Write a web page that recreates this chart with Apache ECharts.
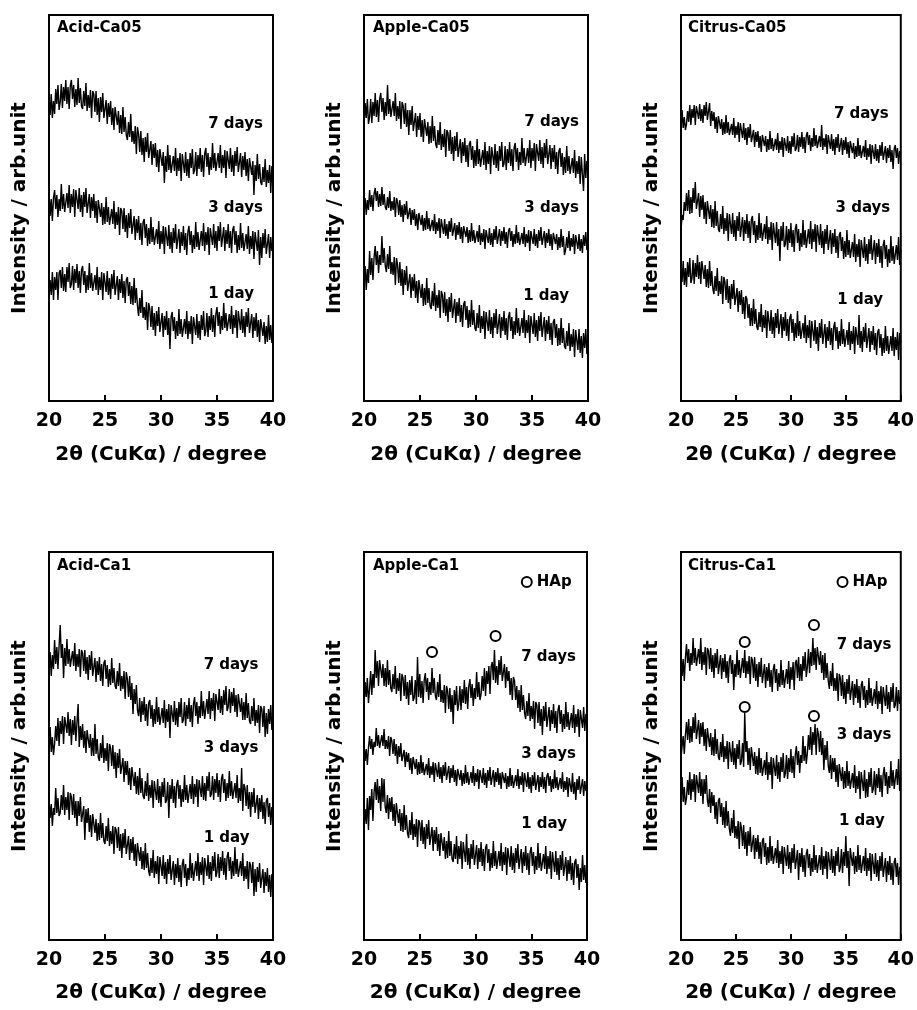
<!DOCTYPE html>
<html>
<head>
<meta charset="utf-8">
<script src="https://cdn.jsdelivr.net/npm/echarts@6/dist/echarts.min.js"></script>
<style>
html,body{margin:0;padding:0;background:#fff;}
#chart{width:917px;height:1010px;}
</style>
</head>
<body>
<div id="chart"></div>
<script>
// 2θ sampling grid (degrees)
const START = 20, STEP = 0.1;
const xTicks = [20, 25, 30, 35, 40];
const panelTitles = ['Acid-Ca05', 'Apple-Ca05', 'Citrus-Ca05', 'Acid-Ca1', 'Apple-Ca1', 'Citrus-Ca1'];
const dayLabels = ['7 days', '3 days', '1 day'];

// Intensities (arb. unit), 0.1° steps from 20° to 40°
const acidCa05_7d = [304,286,307,283,300,287,312,297,316,291,299,317,293,314,300,321,297,314,292,315,321,302,316,294,312,296,323,298,313,295,292,310,295,318,290,306,293,311,283,310,307,289,310,286,303,279,304,289,308,283,283,301,277,298,284,300,276,293,271,294,295,276,290,268,286,267,294,269,284,266,261,279,264,287,259,270,257,275,247,274,267,249,270,246,263,239,264,249,268,243,242,260,236,257,243,258,234,251,229,252,254,235,249,218,245,229,256,231,246,228,227,245,230,253,225,243,230,248,220,247,246,228,249,225,242,223,248,233,252,227,231,249,225,246,232,253,229,246,224,247,253,234,248,226,244,231,258,233,248,230,230,248,233,256,228,246,233,251,223,250,250,232,253,229,246,225,250,235,254,229,230,248,224,245,231,249,225,242,220,243,245,226,240,206,236,220,247,222,237,219,216,234,219,242,214,231,218,236,208,235,224];
const acidCa05_3d = [209,185,202,180,203,211,192,206,184,202,190,217,192,207,189,190,208,193,216,188,207,194,212,184,211,210,192,213,189,206,184,209,194,213,188,189,207,183,204,190,207,183,200,178,201,203,184,198,176,194,177,204,179,194,176,174,192,177,200,172,189,176,194,166,193,190,172,193,169,186,163,188,173,192,167,167,185,161,182,168,185,161,178,156,179,182,163,177,155,173,157,184,159,174,156,154,172,157,180,152,170,157,175,147,174,173,155,176,152,169,148,173,158,177,152,154,172,148,169,155,175,151,168,146,169,175,156,170,148,166,152,179,154,169,151,152,170,155,178,150,169,156,174,146,173,174,156,177,153,170,150,175,160,179,154,156,174,150,171,157,177,153,170,148,171,175,156,170,148,166,151,178,153,168,150,149,167,152,175,147,165,152,170,142,169,168,150,171,136,164,143,168,153,172,147,149,167,143,164,150,155];
const acidCa05_1d = [103,121,106,129,101,124,111,129,101,128,131,113,134,110,127,109,134,119,138,113,117,135,111,132,118,137,113,130,108,131,135,116,130,108,126,111,138,113,128,110,108,126,111,134,106,124,111,129,101,128,127,109,130,106,123,102,127,112,131,106,107,125,101,122,108,127,103,120,98,121,124,105,119,97,115,96,123,98,113,95,85,103,88,111,83,94,81,99,71,98,92,74,95,71,88,65,90,75,94,69,70,88,64,85,71,90,66,83,52,84,89,70,84,62,80,65,92,67,82,64,64,82,67,90,62,80,67,85,57,84,84,66,87,63,80,61,86,71,90,65,70,88,64,85,71,93,69,86,64,87,94,75,89,67,85,71,98,73,88,70,69,87,72,95,67,86,73,91,63,90,89,71,92,68,85,64,89,74,93,68,69,87,63,84,70,88,64,81,59,82,84,65,79,57,75,59,86,61,76,58,66];

const appleCa05_7d = [273,298,283,302,277,284,302,278,299,285,308,284,301,279,302,308,289,303,281,299,285,316,287,302,284,282,300,285,308,280,295,282,300,272,299,295,277,298,274,291,266,291,276,295,270,270,288,264,285,271,288,264,281,259,282,284,265,279,257,275,258,285,260,275,257,253,271,256,279,251,267,254,272,244,271,268,250,271,247,264,240,265,250,269,244,244,262,238,259,245,263,239,256,234,257,260,241,255,233,251,235,262,237,252,234,233,251,236,259,231,250,237,255,227,254,254,236,257,233,250,230,255,240,259,234,237,255,231,252,238,259,235,252,230,253,258,239,253,231,249,236,263,238,253,235,235,253,238,261,233,253,240,258,230,257,258,240,261,237,254,233,258,243,262,237,238,256,232,253,239,256,232,249,227,250,253,234,248,226,244,228,255,230,245,227,225,243,228,251,223,240,227,245,217,244,244,210,247,223,240,235];
const appleCa05_3d = [190,203,186,201,191,211,194,206,190,207,213,200,210,194,207,195,214,196,207,194,191,204,193,210,190,200,191,204,184,203,199,186,201,184,196,179,197,186,200,182,180,193,176,191,181,192,175,187,171,188,189,176,186,170,183,171,190,172,183,170,168,181,170,187,167,179,170,183,163,182,180,167,182,165,177,162,180,169,183,165,165,178,161,176,166,179,162,174,158,175,177,164,174,158,171,159,178,160,171,158,157,170,159,176,156,168,159,172,152,171,171,158,173,156,168,154,172,161,175,157,159,172,155,170,160,174,157,169,153,170,173,160,170,154,167,157,176,158,169,156,155,168,157,174,154,167,158,171,150,170,170,157,172,155,167,153,171,160,174,156,157,170,153,168,158,172,155,167,151,168,170,157,167,151,164,153,172,154,165,146,151,164,153,170,150,163,154,167,147,166,165,152,167,150,162,148,166,155,169,151,157];
const appleCa05_1d = [117,135,111,132,118,150,126,143,121,144,155,136,150,128,146,136,165,138,153,135,129,147,132,155,127,139,126,144,116,143,136,118,139,115,132,106,131,116,135,110,109,127,103,124,110,127,103,120,98,121,122,103,117,95,113,96,123,98,113,95,92,110,95,118,90,106,93,111,83,110,106,88,109,85,102,79,104,89,108,83,84,102,78,99,85,103,79,96,74,97,100,81,95,73,91,74,101,76,91,73,70,88,73,96,68,85,72,90,62,89,88,70,91,67,84,63,88,73,92,67,69,87,63,84,70,90,66,83,61,84,89,70,84,62,80,66,93,68,83,65,65,83,68,91,63,81,68,86,58,85,85,67,88,64,81,60,85,70,89,64,66,84,60,81,67,85,61,78,56,79,82,63,77,55,73,56,83,58,73,55,52,70,55,78,50,67,54,72,44,71,69,51,72,48,65,43,68,53,72,47,52];

const citrusCa05_7d = [272,291,273,284,271,277,290,279,296,276,292,283,296,276,295,295,282,297,280,292,278,296,285,299,281,279,298,275,290,280,289,272,284,268,285,285,272,282,266,279,267,286,268,279,266,264,277,266,283,263,275,266,279,259,278,276,263,278,261,273,256,274,263,277,259,258,271,254,269,259,270,253,265,249,266,268,255,265,249,262,251,270,252,263,250,249,262,251,268,248,260,251,264,244,263,263,250,265,248,260,247,265,254,268,250,253,266,249,264,254,269,252,264,248,265,269,256,266,250,263,254,273,255,266,253,252,265,254,276,251,263,254,267,247,266,265,252,267,250,262,246,264,253,267,249,250,263,246,261,251,264,247,259,243,260,261,248,258,242,255,244,263,245,256,243,242,255,244,261,241,253,244,257,237,256,255,242,257,240,252,238,256,245,259,241,242,255,238,253,243,256,239,251,232,252,256,243,253,237,250,248];
const citrusCa05_3d = [170,186,181,199,190,208,190,211,187,204,188,213,198,219,192,190,208,184,205,191,206,182,199,177,200,201,182,196,174,192,173,200,175,190,172,169,187,172,195,167,183,170,188,160,187,185,167,188,164,181,160,185,170,189,164,166,184,160,181,167,187,163,180,158,181,185,166,180,158,176,161,188,163,178,160,159,177,162,185,157,174,161,179,151,178,176,158,179,155,172,140,175,160,179,154,157,175,151,172,158,178,154,171,149,172,177,158,172,150,168,154,181,156,171,153,154,172,157,180,152,172,159,177,149,176,174,156,177,153,170,147,172,157,176,151,153,171,147,168,154,172,148,165,143,166,169,150,164,142,160,144,171,146,161,143,141,159,144,167,139,157,144,162,134,161,161,143,164,140,157,137,162,147,166,141,143,161,137,158,144,162,138,155,133,156,161,142,156,134,152,138,165,140,155,137,138,156,141,164,136,151];
const citrusCa05_1d = [137,119,140,116,133,114,139,124,143,118,123,141,117,138,124,146,122,139,117,140,141,122,136,114,132,113,140,115,130,112,107,125,110,133,105,120,107,125,97,124,119,101,122,98,115,92,117,102,121,96,95,113,89,110,96,111,87,104,82,105,102,83,97,75,93,75,102,77,92,74,71,89,74,97,69,86,73,91,63,90,88,70,91,67,84,63,88,73,92,67,69,87,63,84,70,89,65,82,60,83,87,68,82,60,78,63,90,65,80,62,60,78,63,86,58,76,63,81,53,80,78,60,81,57,74,50,78,63,82,57,59,77,53,74,60,80,56,73,51,74,79,60,74,52,70,55,82,57,72,54,53,71,56,79,51,70,57,75,47,74,74,56,86,53,70,49,74,59,78,53,55,73,49,70,56,75,51,68,46,69,72,53,67,45,63,48,75,50,65,47,47,65,50,73,45,64,51,69,41,68,58];

const acidCa1_7d = [270,288,264,285,271,300,276,293,271,294,315,282,296,262,292,274,301,276,291,273,271,289,274,297,269,286,273,291,263,290,287,269,290,266,283,260,285,270,289,264,264,282,258,279,265,283,259,276,254,277,280,261,275,253,271,255,282,257,272,254,251,269,254,277,249,264,251,269,241,268,261,243,264,240,257,226,251,236,255,230,224,242,218,239,225,243,219,236,214,237,240,221,235,213,231,216,243,218,233,215,214,232,217,240,212,231,218,236,202,235,236,218,239,215,232,213,238,223,242,217,220,238,214,235,221,242,218,235,213,236,243,224,238,216,234,222,249,224,239,221,223,241,226,249,221,242,229,247,219,246,248,230,251,227,244,225,250,235,254,229,233,251,227,248,234,252,228,245,223,246,247,228,242,220,238,220,247,222,237,219,216,234,219,242,214,230,217,235,207,234,231,213,234,203,227,206,231,216,235,210,218];
const acidCa1_3d = [186,213,188,203,185,196,214,199,222,194,219,206,224,196,223,225,207,228,204,221,195,220,205,224,199,199,236,193,214,200,216,192,209,187,210,211,192,206,184,202,184,216,186,201,183,179,197,182,205,177,192,179,197,169,196,192,174,195,171,188,162,187,172,191,166,164,182,158,179,165,179,155,172,150,173,173,154,168,146,164,145,172,147,162,144,141,159,144,167,139,155,142,160,132,159,158,140,161,137,154,133,158,143,162,137,140,158,122,155,141,161,137,154,132,155,160,141,155,133,151,138,165,140,155,137,138,156,141,164,136,156,143,161,133,160,161,143,164,140,157,139,164,149,168,143,146,164,140,161,147,167,143,160,138,161,166,147,161,139,157,142,169,144,159,141,139,157,142,165,137,152,139,172,129,156,152,134,155,131,148,123,148,133,152,127,127,145,121,142,128,145,121,138,116,139,142,123,137,115,133,126];
const acidCa1_1d = [141,122,136,114,132,125,152,127,142,124,127,145,130,155,125,143,130,148,120,147,143,125,146,122,139,114,139,124,143,118,116,134,100,131,117,132,108,125,103,126,126,107,121,99,117,100,127,102,117,99,96,114,99,122,94,109,96,114,86,113,110,92,113,89,106,82,107,92,111,86,86,104,80,101,87,103,79,96,74,97,98,79,93,71,89,70,97,72,87,69,64,82,67,90,62,79,66,84,56,83,82,64,85,61,78,56,81,66,85,60,61,79,55,76,62,82,58,75,53,76,81,62,76,54,72,60,87,62,77,59,61,79,64,87,59,78,65,83,55,82,82,64,85,61,78,59,84,69,88,63,68,86,62,83,69,89,65,82,60,83,88,69,83,61,79,64,93,66,81,63,61,79,64,87,59,74,61,79,51,78,75,57,78,44,71,48,73,58,77,52,53,71,47,68,54,72,48,65,43,66,56];

const appleCa1_7d = [233,258,243,262,237,251,269,245,266,252,290,262,279,254,280,281,262,276,254,272,253,280,255,270,252,248,266,251,274,246,262,249,267,239,266,262,244,265,241,258,235,260,245,264,239,242,260,236,283,243,266,242,259,237,260,267,248,262,240,258,245,272,247,262,244,240,258,243,266,238,250,237,255,227,254,249,231,252,228,245,216,250,235,254,229,236,254,230,251,237,260,236,253,231,254,261,242,256,234,252,241,268,243,258,240,246,264,249,272,244,269,256,274,246,273,278,260,290,257,274,255,280,265,284,259,258,276,252,273,259,269,245,262,240,263,259,240,254,232,250,228,255,230,245,227,221,239,224,247,219,234,221,239,211,238,235,217,238,214,231,205,234,219,238,213,215,233,209,230,216,236,212,229,207,230,235,216,230,208,226,211,238,213,228,210,209,227,212,235,207,226,213,231,203,230,230,212,233,209,226,222];
const appleCa1_3d = [196,179,191,175,192,204,191,201,185,198,193,212,194,205,192,192,205,194,211,191,200,191,204,184,203,199,186,201,184,196,176,194,183,197,179,177,190,173,188,178,187,170,182,166,183,184,171,181,165,178,166,185,167,178,165,163,176,165,182,162,174,165,178,158,177,176,163,178,161,173,157,175,164,178,160,161,174,157,172,162,175,158,170,154,171,173,160,170,154,167,156,175,157,168,155,155,168,157,174,154,167,158,171,151,170,170,157,172,155,167,152,170,159,173,155,157,170,153,168,158,172,155,167,151,168,170,157,167,151,164,153,172,154,165,152,152,165,154,171,151,164,155,168,148,167,166,153,168,151,163,147,165,154,168,150,152,165,148,163,153,168,151,163,147,164,167,154,164,148,161,151,170,152,163,150,149,162,151,168,148,159,150,163,143,162,161,148,167,146,158,140,161,150,164,146,148,161,144,159,149,151];
const appleCa1_1d = [113,131,116,142,110,144,130,151,119,148,158,140,161,137,154,129,162,138,161,133,127,145,121,142,128,143,119,136,114,137,136,117,131,109,127,108,135,110,125,107,102,120,105,128,100,116,103,121,93,120,117,99,120,96,113,91,116,101,120,95,95,113,89,110,96,113,89,106,84,107,108,89,103,81,99,82,109,84,99,81,78,96,81,104,76,94,81,99,71,98,96,78,106,75,92,71,96,81,100,75,77,95,71,92,78,98,74,91,69,92,96,77,91,69,87,72,99,74,89,71,71,89,74,97,69,88,75,93,65,92,91,73,94,70,87,67,92,77,96,71,73,91,67,88,74,94,70,87,65,88,93,74,88,66,84,70,97,72,87,69,68,86,71,94,66,84,71,89,61,88,86,68,89,65,82,60,85,70,89,64,65,83,59,80,66,84,60,77,55,78,81,62,76,50,72,58,85,60,75,57,66];

const citrusCa1_7d = [288,264,281,259,282,296,277,291,269,287,275,302,277,292,274,273,291,276,302,270,288,275,293,265,292,289,271,292,268,285,262,287,272,291,266,267,285,261,282,268,286,262,279,257,280,285,266,280,250,276,263,290,265,280,262,264,282,267,290,262,279,266,284,256,283,280,262,283,259,276,253,278,263,282,257,258,276,252,273,259,277,253,270,248,271,276,257,271,249,267,253,280,255,270,252,253,271,256,279,251,273,260,278,250,277,280,262,283,259,276,259,284,269,288,263,273,291,267,288,274,302,275,292,270,293,294,275,289,267,285,260,287,262,277,259,251,269,254,277,249,262,249,267,239,266,262,244,265,241,258,236,261,246,265,240,241,259,235,256,242,261,237,254,232,255,259,240,254,232,250,235,262,237,252,234,233,251,236,259,231,249,236,254,226,253,252,234,255,231,248,228,253,238,257,232,235,253,229,250,236,243];
const citrusCa1_3d = [182,194,204,186,205,218,200,221,197,214,198,223,207,227,201,202,220,196,217,203,218,194,211,189,212,212,193,207,185,203,184,211,186,201,183,180,198,183,206,178,194,181,199,171,198,196,178,199,175,192,171,196,181,200,175,179,197,173,227,188,199,175,192,170,193,193,174,188,166,184,165,192,167,182,164,162,180,165,188,160,178,165,183,151,182,182,164,185,161,178,158,183,168,187,162,167,185,161,182,168,191,167,184,162,185,194,175,189,167,185,177,204,179,194,176,187,205,190,213,185,208,195,216,185,212,206,188,209,185,202,170,195,180,199,174,167,185,161,182,168,182,158,175,153,176,178,159,173,151,169,152,179,154,169,151,149,167,152,175,147,164,151,169,141,168,167,149,170,142,161,143,168,153,172,147,151,169,145,166,152,172,148,165,143,166,173,154,168,146,164,152,179,154,170,151,152,171,155,181,149,163];
const citrusCa1_1d = [136,163,138,153,135,142,160,145,168,140,161,148,166,138,165,165,147,168,144,161,136,161,146,165,140,133,151,127,148,134,145,121,138,116,139,142,123,137,115,133,112,139,114,129,111,104,122,107,130,102,114,101,119,91,118,112,94,115,91,108,84,109,94,113,88,87,105,81,102,88,105,81,98,76,99,102,83,97,75,93,77,104,79,94,76,74,92,77,100,72,89,76,94,66,93,92,74,95,71,88,67,92,77,96,71,72,90,60,87,73,92,68,85,63,86,91,72,86,64,82,68,95,70,85,67,67,85,70,93,65,84,71,89,61,88,88,70,91,67,84,64,89,74,93,68,73,91,67,88,74,104,72,89,54,92,93,74,88,66,84,68,95,70,85,67,66,84,69,92,64,82,69,87,59,86,84,66,87,63,80,59,84,69,88,63,64,82,58,79,65,84,60,77,55,78,82,63,77,55,73,68];

// HAp reflection markers (2θ, intensity)
const hapAppleCa1 = [[26.1, 288], [31.8, 304]];
const hapCitrusCa1 = [[25.8, 298], [32.1, 315], [25.8, 233], [32.1, 224]];

const FONT = '"DejaVu Sans", "Liberation Sans", Arial, sans-serif';

const panels = [
  {grid:{left:49, top:15, width:224, height:386}, ymax:386, traces:[acidCa05_7d, acidCa05_3d, acidCa05_1d], lab:[[36.7,276],[36.7,192],[36.3,106]], title:[57,21], row:0},
  {grid:{left:364, top:15, width:224, height:386}, ymax:386, traces:[appleCa05_7d, appleCa05_3d, appleCa05_1d], lab:[[36.8,278],[36.8,192],[36.3,104]], title:[373,21], row:0},
  {grid:{left:681, top:15, width:221, height:386}, ymax:386, traces:[citrusCa05_7d, citrusCa05_3d, citrusCa05_1d], lab:[[36.45,286],[36.6,192],[36.35,100]], title:[688,21], row:0},
  {grid:{left:49, top:552, width:224, height:388}, ymax:388, traces:[acidCa1_7d, acidCa1_3d, acidCa1_1d], lab:[[36.3,274],[36.3,191],[35.9,101]], title:[57,559], row:1},
  {grid:{left:364, top:552, width:223, height:388}, ymax:388, traces:[appleCa1_7d, appleCa1_3d, appleCa1_1d], lab:[[36.6,282],[36.6,185],[36.2,115]], title:[373,559], row:1, hap:hapAppleCa1, hapLegend:[34.6,358]},
  {grid:{left:681, top:552, width:221, height:388}, ymax:388, traces:[citrusCa1_7d, citrusCa1_3d, citrusCa1_1d], lab:[[36.7,294],[36.7,204],[36.5,118]], title:[688,559], row:1, hap:hapCitrusCa1, hapLegend:[34.7,358]}
];

function toPairs(vals){ return vals.map((v,i)=>[+(START + i*STEP).toFixed(1), v]); }

const boldText = (size)=>({fontFamily:FONT, fontWeight:'bold', fontSize:size, color:'#000'});

const option = {
  backgroundColor:'#fff',
  animation:false,
  title: panels.map((p,i)=>({text:panelTitles[i], left:p.title[0], top:p.title[1], padding:0, textStyle:boldText(15)})),
  grid: panels.map(p=>Object.assign({show:true, borderColor:'#000', borderWidth:2, backgroundColor:'transparent'}, p.grid)),
  xAxis: panels.map((p,i)=>({
    gridIndex:i, type:'value', min:xTicks[0], max:xTicks[xTicks.length-1], interval:5,
    axisLine:{show:false},
    axisTick:{show:true, inside:true, length:6, lineStyle:{color:'#000', width:2}},
    axisLabel:Object.assign({margin:11}, boldText(19)),
    splitLine:{show:false},
    name:'2θ (CuKα) / degree', nameLocation:'middle', nameGap: p.row===0 ? 44 : 43,
    nameTextStyle:boldText(20)
  })),
  yAxis: panels.map((p,i)=>({
    gridIndex:i, type:'value', min:0, max:p.ymax,
    axisLine:{show:false}, axisTick:{show:false}, axisLabel:{show:false}, splitLine:{show:false},
    name:'Intensity / arb.unit', nameLocation:'middle', nameGap:19,
    nameTextStyle:boldText(20)
  })),
  series: []
};

panels.forEach((p,i)=>{
  p.traces.forEach(tr=>{
    option.series.push({type:'line', xAxisIndex:i, yAxisIndex:i, data:toPairs(tr), symbol:'none', showSymbol:false,
      lineStyle:{color:'#000', width:1.4}, silent:true, z:2});
  });
  option.series.push({type:'scatter', xAxisIndex:i, yAxisIndex:i, symbolSize:1, itemStyle:{color:'rgba(0,0,0,0)', opacity:1}, silent:true, z:5,
    data: p.lab.map((pt,k)=>({value:pt, name:dayLabels[k]})),
    label:Object.assign({show:true, position:[0,0], align:'center', verticalAlign:'middle', formatter:(d)=>d.name}, boldText(15))
  });
  if (p.hap){
    option.series.push({type:'scatter', xAxisIndex:i, yAxisIndex:i, symbol:'circle', symbolSize:10, silent:true, z:6,
      itemStyle:{color:'#fff', borderColor:'#000', borderWidth:2, opacity:1},
      data:p.hap});
    option.series.push({type:'scatter', xAxisIndex:i, yAxisIndex:i, symbol:'circle', symbolSize:10, silent:true, z:6,
      itemStyle:{color:'#fff', borderColor:'#000', borderWidth:2, opacity:1},
      data:[{value:p.hapLegend, name:'HAp'}],
      label:Object.assign({show:true, position:'right', distance:4, formatter:(d)=>d.name}, boldText(15))});
  }
});

const chart = echarts.init(document.getElementById('chart'), null, {renderer:'canvas'});
chart.setOption(option);
</script>
</body>
</html>
